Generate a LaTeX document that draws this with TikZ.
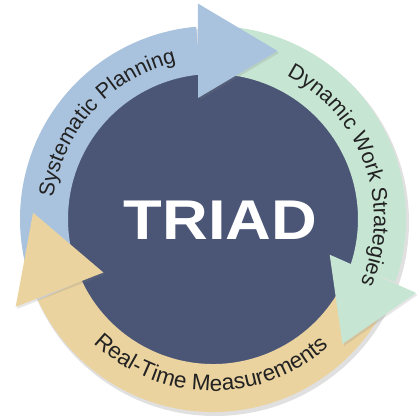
\documentclass[tikz,border=0pt]{standalone}
\usepackage{fontspec}
\setmainfont{Liberation Sans}
\usetikzlibrary{decorations.text,shadows}
\definecolor{planblue}{HTML}{A9C3DE}
\definecolor{workgreen}{HTML}{C6E5D2}
\definecolor{meastan}{HTML}{EBD3A0}
\definecolor{triadbg}{HTML}{4B5677}
\definecolor{arctext}{HTML}{222222}
\newcommand\arcfont{\fontsize{21.5}{21.5}\selectfont\color{arctext}}
\newcommand\measfont{\fontsize{22.5}{22.5}\selectfont\color{arctext}}
\begin{document}
\begin{tikzpicture}[x=1pt,y=1pt,
  band/.style={fill=#1},
  head/.style={fill=#1,drop shadow={opacity=0.2,shadow xshift=1.5pt,shadow yshift=-2pt}},
  arclabel/.style={decorate,decoration={text along path,text align=center,text={|\arcfont|#1}}},
  measlabel/.style={decorate,decoration={text along path,text align=center,text={|\measfont|#1}}}]
\useasboundingbox (-213,-200) rectangle (207,219);
\fill[black,opacity=0.12] (2,-3) circle[radius=194]; % soft shadow of the ring
\fill[triadbg] (0,0) circle[radius=147];
% bands: colour/from/to
\foreach \c/\a/\b in {planblue/95/200, workgreen/-19/90, meastan/-155/-23}
  \fill[band=\c] (\a:145) arc[start angle=\a,end angle=\b,radius=145]
    -- (\b:193) arc[start angle=\b,end angle=\a,radius=193] -- cycle;
% heads: colour/inner base/outer base/tip
\foreach \c/\i/\o/\t in {planblue/97/94/69, workgreen/-17/-20/-44, meastan/206/204/178}
  \fill[head=\c] (\i:122) -- (\o:216) -- (\t:180) -- cycle;
% labels on the ring
\path[arclabel=Systematic Planning] (227.8:161) arc[start angle=227.8,end angle=47.8,radius=161];
\path[arclabel=Dynamic Work Strategies] (109.7:161) arc[start angle=109.7,end angle=-70.3,radius=161];
\path[measlabel=Real-Time Measurements] (179.2:172) arc[start angle=179.2,end angle=359.2,radius=172];
\node[text=white,font=\fontsize{56}{56}\selectfont\bfseries,xscale=1.13] (triad) at (7.5,-1) {TRIAD};
\end{tikzpicture}
\end{document}
